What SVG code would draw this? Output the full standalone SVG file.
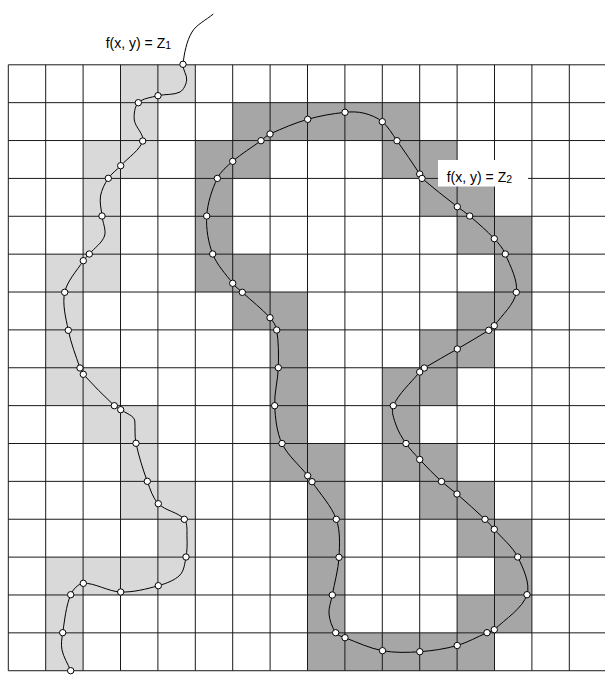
<svg xmlns="http://www.w3.org/2000/svg" width="605" height="676" viewBox="0 0 605 676">
<style>
.l{fill:#d9d9d9}
.d{fill:#a6a6a6}
.grid{fill:none;stroke:#1a1a1a;stroke-width:1}
.curve{fill:none;stroke:#000;stroke-width:1}
.pt{fill:#fff;stroke:#000;stroke-width:1}
.lbl{font-family:"Liberation Sans",Arial,sans-serif;font-size:14px;fill:#000}
</style>
<rect x="0" y="0" width="605" height="676" fill="#fff"/>
<g id="cells-z1">
<rect class="l" x="120.5" y="64.8" width="74.8" height="37.87"/>
<rect class="l" x="120.5" y="102.67" width="37.4" height="37.87"/>
<rect class="l" x="83.1" y="140.54" width="74.8" height="37.87"/>
<rect class="l" x="83.1" y="178.41" width="37.4" height="75.74"/>
<rect class="l" x="45.7" y="254.15" width="74.8" height="37.87"/>
<rect class="l" x="45.7" y="292.02" width="37.4" height="75.74"/>
<rect class="l" x="45.7" y="367.76" width="74.8" height="37.87"/>
<rect class="l" x="83.1" y="405.63" width="74.8" height="37.87"/>
<rect class="l" x="120.5" y="443.5" width="37.4" height="37.87"/>
<rect class="l" x="120.5" y="481.37" width="74.8" height="37.87"/>
<rect class="l" x="157.9" y="519.24" width="37.4" height="37.87"/>
<rect class="l" x="45.7" y="557.11" width="149.6" height="37.87"/>
<rect class="l" x="45.7" y="594.98" width="37.4" height="75.74"/>
</g>
<g id="cells-z2">
<rect class="d" x="232.7" y="102.67" width="187" height="37.87"/>
<rect class="d" x="195.3" y="140.54" width="74.8" height="37.87"/>
<rect class="d" x="382.3" y="140.54" width="74.8" height="37.87"/>
<rect class="d" x="195.3" y="178.41" width="37.4" height="75.74"/>
<rect class="d" x="419.7" y="178.41" width="74.8" height="37.87"/>
<rect class="d" x="457.1" y="216.28" width="74.8" height="37.87"/>
<rect class="d" x="195.3" y="254.15" width="74.8" height="37.87"/>
<rect class="d" x="494.5" y="254.15" width="37.4" height="37.87"/>
<rect class="d" x="232.7" y="292.02" width="74.8" height="37.87"/>
<rect class="d" x="457.1" y="292.02" width="74.8" height="37.87"/>
<rect class="d" x="270.1" y="329.89" width="37.4" height="113.61"/>
<rect class="d" x="419.7" y="329.89" width="74.8" height="37.87"/>
<rect class="d" x="382.3" y="367.76" width="74.8" height="37.87"/>
<rect class="d" x="382.3" y="405.63" width="37.4" height="37.87"/>
<rect class="d" x="270.1" y="443.5" width="74.8" height="37.87"/>
<rect class="d" x="382.3" y="443.5" width="74.8" height="37.87"/>
<rect class="d" x="307.5" y="481.37" width="37.4" height="151.48"/>
<rect class="d" x="419.7" y="481.37" width="74.8" height="37.87"/>
<rect class="d" x="457.1" y="519.24" width="74.8" height="37.87"/>
<rect class="d" x="494.5" y="557.11" width="37.4" height="37.87"/>
<rect class="d" x="457.1" y="594.98" width="74.8" height="37.87"/>
<rect class="d" x="307.5" y="632.85" width="187" height="37.87"/>
</g>
<g id="grid">
<path class="grid" d="M8.3 64.8V670.72M45.7 64.8V670.72M83.1 64.8V670.72M120.5 64.8V670.72M157.9 64.8V670.72M195.3 64.8V670.72M232.7 64.8V670.72M270.1 64.8V670.72M307.5 64.8V670.72M344.9 64.8V670.72M382.3 64.8V670.72M419.7 64.8V670.72M457.1 64.8V670.72M494.5 64.8V670.72M531.9 64.8V670.72M569.3 64.8V670.72M8.3 64.8H605M8.3 102.67H605M8.3 140.54H605M8.3 178.41H605M8.3 216.28H605M8.3 254.15H605M8.3 292.02H605M8.3 329.89H605M8.3 367.76H605M8.3 405.63H605M8.3 443.5H605M8.3 481.37H605M8.3 519.24H605M8.3 557.11H605M8.3 594.98H605M8.3 632.85H605M8.3 670.72H605"/>
</g>
<g id="label-z2-bg">
<rect x="438" y="160" width="90" height="26.5" fill="#fff"/>
</g>
<g id="connectors">
<path id="curve-z1" class="curve" d="M213.3 14C206.2 20 196.58 24.4 192 32C186.49 41.15 184.19 53.5 183 64.3C182.43 69.48 187.24 75.01 186.7 80C186.24 84.24 183.64 90.01 180 92C174.09 95.23 165.17 93.86 158 95.7C151.29 97.42 142.57 98.33 138.3 102.7C134.67 106.42 133.65 114.37 134.3 120C135.12 127.12 144.54 134.83 142.7 141C140.01 150.05 128.16 157.61 120.7 165.7C116.71 170.03 111.51 173.48 108.3 178.3C104.79 183.57 101.53 189.85 100.5 196C99.43 202.41 101.34 209.36 102 216C102.67 222.68 106.46 230.15 104.5 236C102.21 242.84 94.41 248.05 89.3 254C87.35 256.27 84.92 258.17 83.3 260.7C76.71 270.96 67.15 280.96 64.7 292.3C62.15 304.13 65.79 317.89 68.3 330.3C70.89 343.09 75.75 355.55 80 368C80.77 370.24 81.72 372.57 83.3 374.3C93.14 385.12 103.64 395.61 114.3 405.7C116.1 407.4 118.67 408.23 120.7 409.7C125.23 412.99 134.35 415.6 134.8 421C135.4 428.2 134.4 435.8 136 443.3C138.79 456.17 142.75 468.98 147.3 481.3C150.18 489.09 152.71 497.96 158.3 503.7C165.07 510.65 178.42 512.27 184.3 519.3C187.97 523.69 186.72 531.74 187 538C187.28 544.3 187.17 550.83 186 557C184.83 563.17 184.07 570.78 180 575C174.82 580.37 165.95 583.51 158.3 585.7C146.2 589.17 133.15 592.4 120.7 592C108.17 591.6 94.85 582.68 83.3 583.3C78.2 583.58 72.8 589.66 70.7 594.7C65.92 606.16 64.71 619.93 62.7 632.7C61.8 638.4 60.84 644.49 62 650C63.5 657.14 67.8 663.8 70.7 670.7"/>
<path id="curve-z2" class="curve" d="M345 112.3C351.25 111.62 357.96 111.68 364 113.2C370.42 114.82 377.28 117.52 382.3 121.7C388.27 126.68 392.36 134.21 397 140.7C404.82 151.63 412.27 162.8 419.7 174C420.63 175.39 420.76 177.32 422 178.4C433.28 188.21 445.47 197.38 457.3 206.7C461.35 209.9 465.81 212.64 469.7 216C478.14 223.3 486.68 230.57 494.3 238.7C498.57 243.26 502.95 248.26 505.3 254C510.27 266.11 518.13 280.4 516.3 292.3C514.46 304.27 502.08 314.98 494.3 325.7C492.89 327.64 490.74 329.02 488.7 330.3C478.41 336.78 467.8 342.85 457.3 349C446.35 355.41 435.09 361.4 424.3 368C422.57 369.06 421 370.42 419.7 372C410.65 383.01 398.73 393.56 393.3 405.7C390.84 411.21 393.97 418.95 396 425C398.2 431.54 402.07 437.77 406 443.5C409.96 449.26 414.91 454.37 419.7 459.5C426.73 467.02 433.93 474.5 441.5 481.5C446.35 485.99 452 489.65 457 494C466.48 502.24 475.9 510.69 485 519.3C488.32 522.44 491.32 525.87 494.3 529.3C502.21 538.42 512.44 546.47 517.7 557C523.32 568.25 530.49 583.87 527 594.7C522.69 608.08 505.74 618.83 494.3 629.7C492.42 631.49 489.41 631.67 487 632.7C477.06 636.93 467.55 642.57 457.2 645.5C445.1 648.92 432.35 650.83 419.8 651.7C407.47 652.56 394.54 652.95 382.5 650.7C369.63 648.29 357.31 642.43 345 637.7C341.72 636.44 337.56 635.45 335.7 632.7C332.23 627.56 329.57 620.37 329 614C328.44 607.82 331.18 601.35 332.3 595C334.52 582.41 338.33 569.94 339 557.3C339.66 544.73 340.43 530.87 336.3 519.3C331.44 505.69 320.18 494.17 312 481.7C310.66 479.65 309.23 477.65 307.7 475.7C299.21 464.89 287.68 455.54 282 443.5C276.69 432.23 275.32 418.36 274.7 405.7C274.09 393.12 277.96 380.42 278.3 367.7C278.63 355.13 278.72 342.15 276.7 330C275.95 325.5 273.1 321.09 270 317.7C261.64 308.54 251.51 300.8 242.3 292.3C239.05 289.31 235.36 286.75 232.7 283.3C225.51 273.99 216.86 264.77 212.7 254C208.2 242.36 205.94 228.47 206.7 216C207.47 203.3 211.84 189.89 217.3 178.4C220.5 171.67 226.93 166.28 232.7 161.3C241.48 153.72 251.56 147.61 261 140.7C264.02 138.49 266.64 135.54 270 134C282.19 128.41 294.8 123.03 307.7 119.3C319.78 115.81 332.5 113.65 345 112.3Z"/>
</g>
<g id="points-z1">
<circle class="pt" cx="183" cy="64.3" r="3.2"/>
<circle class="pt" cx="158" cy="95.7" r="3.2"/>
<circle class="pt" cx="138.3" cy="102.7" r="3.2"/>
<circle class="pt" cx="142.7" cy="141" r="3.2"/>
<circle class="pt" cx="120.7" cy="165.7" r="3.2"/>
<circle class="pt" cx="108.3" cy="178.3" r="3.2"/>
<circle class="pt" cx="102" cy="216" r="3.2"/>
<circle class="pt" cx="89.3" cy="254" r="3.2"/>
<circle class="pt" cx="83.3" cy="260.7" r="3.2"/>
<circle class="pt" cx="64.7" cy="292.3" r="3.2"/>
<circle class="pt" cx="68.3" cy="330.3" r="3.2"/>
<circle class="pt" cx="80" cy="368" r="3.2"/>
<circle class="pt" cx="83.3" cy="374.3" r="3.2"/>
<circle class="pt" cx="114.3" cy="405.7" r="3.2"/>
<circle class="pt" cx="120.7" cy="409.7" r="3.2"/>
<circle class="pt" cx="136" cy="443.3" r="3.2"/>
<circle class="pt" cx="147.3" cy="481.3" r="3.2"/>
<circle class="pt" cx="158.3" cy="503.7" r="3.2"/>
<circle class="pt" cx="184.3" cy="519.3" r="3.2"/>
<circle class="pt" cx="186" cy="557" r="3.2"/>
<circle class="pt" cx="158.3" cy="585.7" r="3.2"/>
<circle class="pt" cx="120.7" cy="592" r="3.2"/>
<circle class="pt" cx="83.3" cy="583.3" r="3.2"/>
<circle class="pt" cx="70.7" cy="594.7" r="3.2"/>
<circle class="pt" cx="62.7" cy="632.7" r="3.2"/>
<circle class="pt" cx="70.7" cy="670.7" r="3.2"/>
</g>
<g id="points-z2">
<circle class="pt" cx="345" cy="112.3" r="3.2"/>
<circle class="pt" cx="382.3" cy="121.7" r="3.2"/>
<circle class="pt" cx="397" cy="140.7" r="3.2"/>
<circle class="pt" cx="419.7" cy="174" r="3.2"/>
<circle class="pt" cx="422" cy="178.4" r="3.2"/>
<circle class="pt" cx="457.3" cy="206.7" r="3.2"/>
<circle class="pt" cx="469.7" cy="216" r="3.2"/>
<circle class="pt" cx="494.3" cy="238.7" r="3.2"/>
<circle class="pt" cx="505.3" cy="254" r="3.2"/>
<circle class="pt" cx="516.3" cy="292.3" r="3.2"/>
<circle class="pt" cx="494.3" cy="325.7" r="3.2"/>
<circle class="pt" cx="488.7" cy="330.3" r="3.2"/>
<circle class="pt" cx="457.3" cy="349" r="3.2"/>
<circle class="pt" cx="424.3" cy="368" r="3.2"/>
<circle class="pt" cx="419.7" cy="372" r="3.2"/>
<circle class="pt" cx="393.3" cy="405.7" r="3.2"/>
<circle class="pt" cx="406" cy="443.5" r="3.2"/>
<circle class="pt" cx="419.7" cy="459.5" r="3.2"/>
<circle class="pt" cx="441.5" cy="481.5" r="3.2"/>
<circle class="pt" cx="457" cy="494" r="3.2"/>
<circle class="pt" cx="485" cy="519.3" r="3.2"/>
<circle class="pt" cx="494.3" cy="529.3" r="3.2"/>
<circle class="pt" cx="517.7" cy="557" r="3.2"/>
<circle class="pt" cx="527" cy="594.7" r="3.2"/>
<circle class="pt" cx="494.3" cy="629.7" r="3.2"/>
<circle class="pt" cx="487" cy="632.7" r="3.2"/>
<circle class="pt" cx="457.2" cy="645.5" r="3.2"/>
<circle class="pt" cx="419.8" cy="651.7" r="3.2"/>
<circle class="pt" cx="382.5" cy="650.7" r="3.2"/>
<circle class="pt" cx="345" cy="637.7" r="3.2"/>
<circle class="pt" cx="335.7" cy="632.7" r="3.2"/>
<circle class="pt" cx="332.3" cy="595" r="3.2"/>
<circle class="pt" cx="339" cy="557.3" r="3.2"/>
<circle class="pt" cx="336.3" cy="519.3" r="3.2"/>
<circle class="pt" cx="312" cy="481.7" r="3.2"/>
<circle class="pt" cx="307.7" cy="475.7" r="3.2"/>
<circle class="pt" cx="282" cy="443.5" r="3.2"/>
<circle class="pt" cx="274.7" cy="405.7" r="3.2"/>
<circle class="pt" cx="278.3" cy="367.7" r="3.2"/>
<circle class="pt" cx="276.7" cy="330" r="3.2"/>
<circle class="pt" cx="270" cy="317.7" r="3.2"/>
<circle class="pt" cx="242.3" cy="292.3" r="3.2"/>
<circle class="pt" cx="232.7" cy="283.3" r="3.2"/>
<circle class="pt" cx="212.7" cy="254" r="3.2"/>
<circle class="pt" cx="206.7" cy="216" r="3.2"/>
<circle class="pt" cx="217.3" cy="178.4" r="3.2"/>
<circle class="pt" cx="232.7" cy="161.3" r="3.2"/>
<circle class="pt" cx="261" cy="140.7" r="3.2"/>
<circle class="pt" cx="270" cy="134" r="3.2"/>
<circle class="pt" cx="307.7" cy="119.3" r="3.2"/>
</g>
<g id="label-z1">
<text class="lbl" x="105.7" y="47.7">f(x, y) = Z<tspan font-size="10.5" dy="1.5">1</tspan></text>
</g>
<g id="label-z2">
<text class="lbl" x="446.7" y="181.7">f(x, y) = Z<tspan font-size="10.5" dy="1.5">2</tspan></text>
</g>
</svg>
